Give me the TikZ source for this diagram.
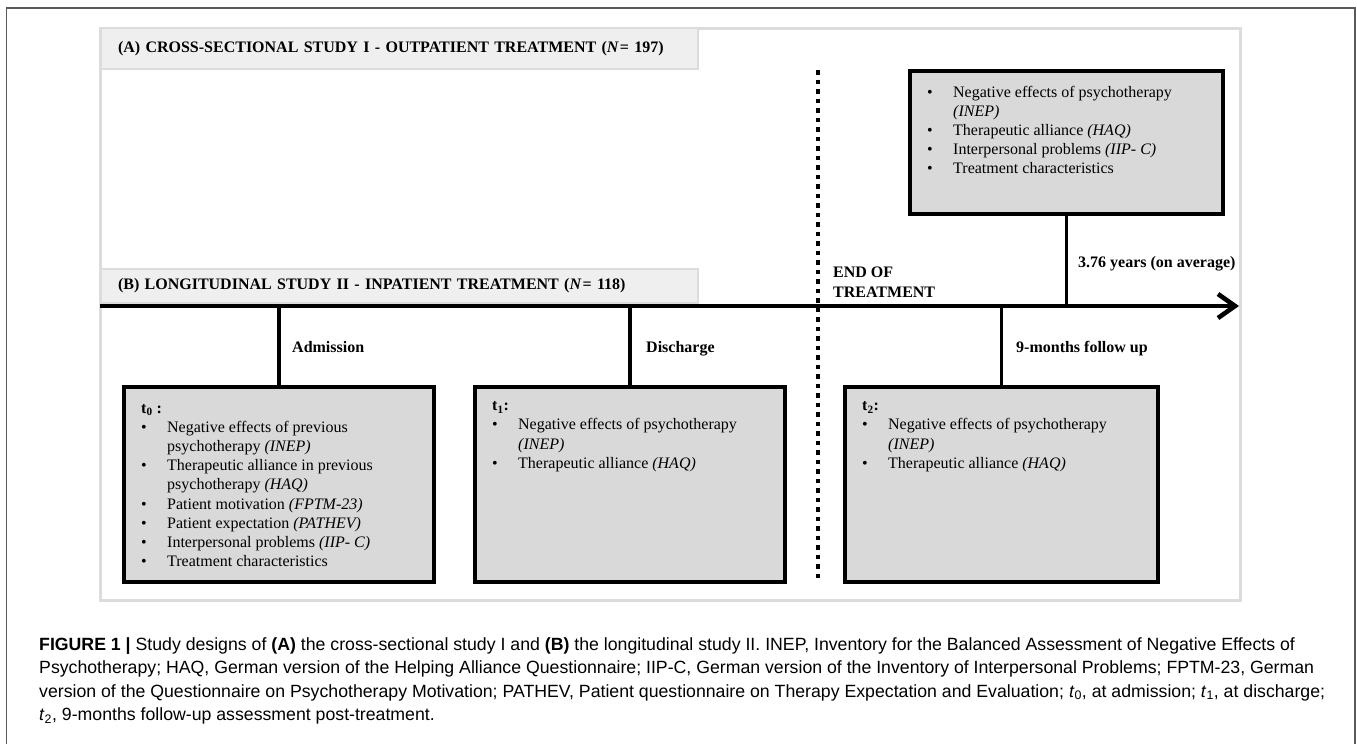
\documentclass[tikz,border=0pt]{standalone}
\usepackage{fontspec}
\setmainfont{Liberation Serif}
\newfontfamily\capfont{Liberation Sans}
\usetikzlibrary{arrows.meta,positioning}
\definecolor{boxgray}{HTML}{D9D9D9}
\definecolor{headgray}{HTML}{EFEFEF}
\definecolor{framegray}{HTML}{DCDCDC}
\definecolor{outergray}{HTML}{5A5A5A}
\begin{document}
\begin{tikzpicture}
  [x=1pt,y=-1pt,
   every node/.style={inner sep=0pt,font=\fontsize{16}{19.2}\selectfont},
   header/.style={draw=framegray,line width=2pt,fill=headgray,anchor=west,
     minimum height=#1,text width=563pt,inner xsep=17pt,align=left,
     font=\fontsize{16}{19.2}\selectfont\bfseries},
   measbox/.style={draw,line width=3.4pt,fill=boxgray,outer sep=0pt,
     minimum width=310pt,minimum height=195pt},
   listtext/.style={anchor=north west,align=left},
   stamp/.style={anchor=base west,font=\fontsize{16}{19.2}\selectfont\bfseries},
   stem/.style={line width=3.3pt},
   timeline/.style={line width=4.6pt,-{Straight Barb[length=17pt,width=24pt]}}]

  \useasboundingbox (0,0) rectangle (1357,744);
  \draw[outergray,line width=1.3pt] (6.5,750) -- (6.5,8) -- (1355,8) -- (1355,750);
  \draw[framegray,line width=3pt,fill=white] (100,28) rectangle (1240,600);

  \node[header=41pt] (hA) at (100,48.5) {(A) CROSS-SECTIONAL STUDY I - OUTPATIENT TREATMENT (\textit{N}\kern1pt= 197)};
  \node[header=34pt] (hB) at (100,286) {(B) LONGITUDINAL STUDY II - INPATIENT TREATMENT (\textit{N}\kern1pt= 118)};

  \coordinate (tl0) at (100,306);
  \coordinate (tl1) at (1239,306);
  \coordinate (eot0) at (818,70);
  \coordinate (eot1) at (818,582);

  \draw[line width=4.5pt,dash pattern=on 4.5pt off 5pt] (eot0) -- (eot1);
  \draw[timeline] (tl0) -- (tl1);

  \node[measbox] (t0) at (279,484.5) {};
  \node[measbox] (t1) at (630,484.5) {};
  \node[measbox,minimum width=313pt] (t2) at (1001.5,484.5) {};
  \node[measbox,minimum width=313pt,minimum height=143pt] (fu) at (1066.5,142.5) {};

  \foreach \m in {t0,t1,t2}
    \draw[stem] (\m.north) -- (\m.north |- tl0);
  \draw[stem] (fu.south) -- (fu.south |- tl0);

  \node[stamp] (adm) at (292,352) {Admission};
  \node[stamp] (dis) at (646,352) {Discharge};
  \node[stamp] (fol) at (1016,352) {9-months follow up};
  \node[stamp] (yrs) at (1078,267) {3.76 years (on average)};
  \node[stamp,align=left] (eot) at (833,297) {END OF\\TREATMENT};

  \node[listtext] (t0txt) at ([shift={(17,12.5)}]t0.north west) {%
    \begin{tabular}{@{}p{26pt}@{}l@{}}
      \multicolumn{2}{@{}l}{\textbf{t\textsubscript{0} :}}\\
      \textbullet & Negative effects of previous\\
                  & psychotherapy \textit{(INEP)}\\
      \textbullet & Therapeutic alliance in previous\\
                  & psychotherapy \textit{(HAQ)}\\
      \textbullet & Patient motivation \textit{(FPTM-23)}\\
      \textbullet & Patient expectation \textit{(PATHEV)}\\
      \textbullet & Interpersonal problems \textit{(IIP- C)}\\
      \textbullet & Treatment characteristics
    \end{tabular}};
  \node[listtext] (t1txt) at ([shift={(17,10)}]t1.north west) {%
    \begin{tabular}{@{}p{26pt}@{}l@{}}
      \multicolumn{2}{@{}l}{\textbf{t\textsubscript{1}:}}\\
      \textbullet & Negative effects of psychotherapy\\
                  & \textit{(INEP)}\\
      \textbullet & Therapeutic alliance \textit{(HAQ)}
    \end{tabular}};
  \node[listtext] (t2txt) at ([shift={(17,10)}]t2.north west) {%
    \begin{tabular}{@{}p{26pt}@{}l@{}}
      \multicolumn{2}{@{}l}{\textbf{t\textsubscript{2}:}}\\
      \textbullet & Negative effects of psychotherapy\\
                  & \textit{(INEP)}\\
      \textbullet & Therapeutic alliance \textit{(HAQ)}
    \end{tabular}};
  \node[listtext] (futxt) at ([shift={(17,12.5)}]fu.north west) {%
    \begin{tabular}{@{}p{26pt}@{}l@{}}
      \textbullet & Negative effects of psychotherapy\\
                  & \textit{(INEP)}\\
      \textbullet & Therapeutic alliance \textit{(HAQ)}\\
      \textbullet & Interpersonal problems \textit{(IIP- C)}\\
      \textbullet & Treatment characteristics
    \end{tabular}};

  \node[anchor=north west,align=left,font=\capfont\fontsize{17.7}{23.5}\selectfont] (cap) at (39,637) {%
    \textbf{FIGURE 1 |} Study designs of \textbf{(A)} the cross-sectional study I and \textbf{(B)} the longitudinal study II. INEP, Inventory for the Balanced Assessment of Negative Effects of\\
    Psychotherapy; HAQ, German version of the Helping Alliance Questionnaire; IIP-C, German version of the Inventory of Interpersonal Problems; FPTM-23, German\\
    version of the Questionnaire on Psychotherapy Motivation; PATHEV, Patient questionnaire on Therapy Expectation and Evaluation; \textit{t}\textsubscript{0}, at admission; \textit{t}\textsubscript{1}, at discharge;\\
    \textit{t}\textsubscript{2}, 9-months follow-up assessment post-treatment.};

\end{tikzpicture}
\end{document}
